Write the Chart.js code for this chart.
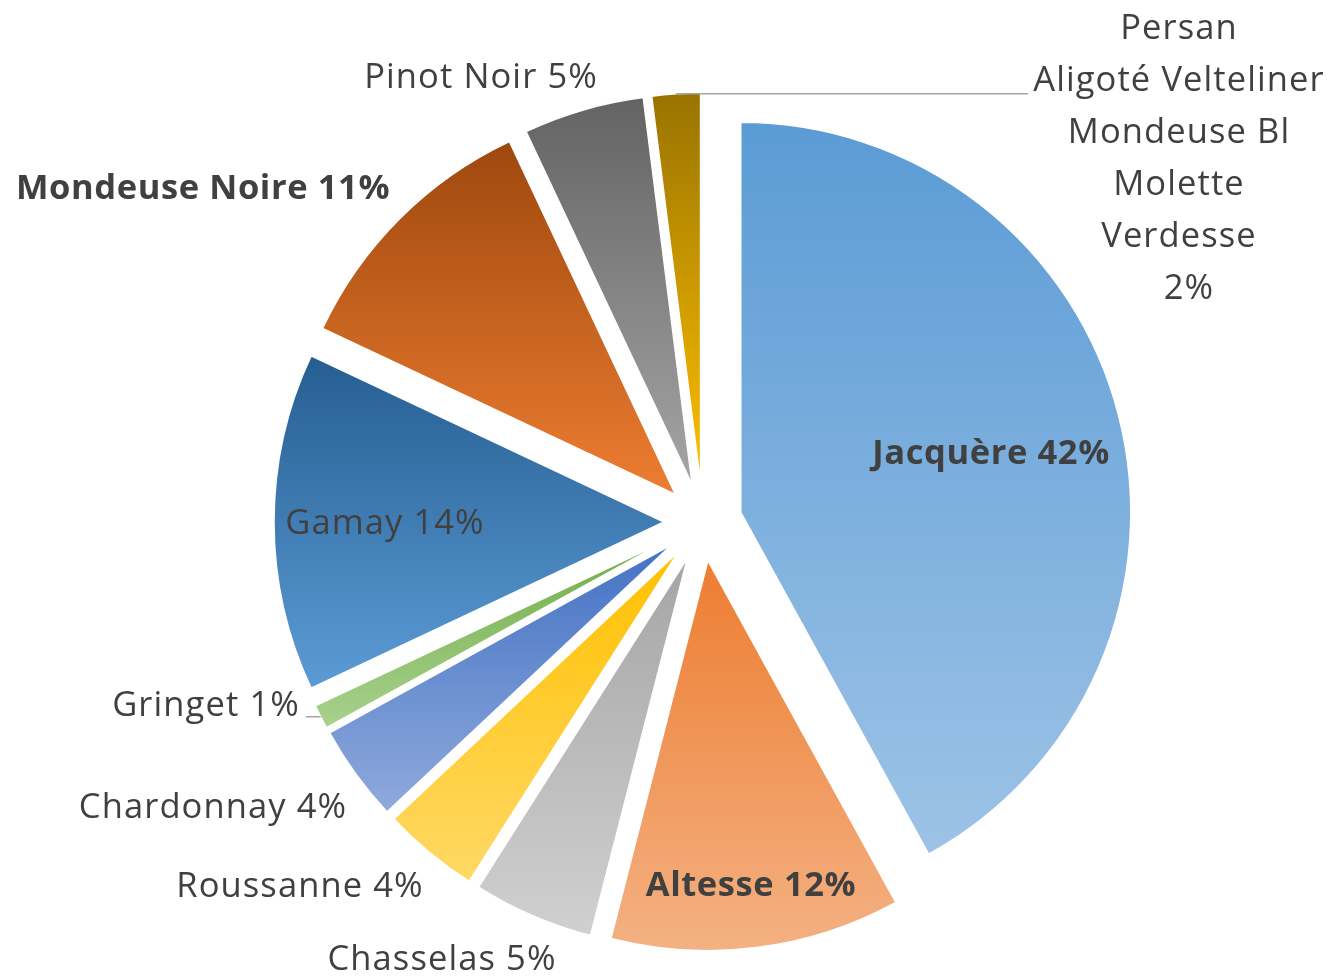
<!DOCTYPE html>
<html lang="fr">
<head>
<meta charset="utf-8">
<script src="https://cdn.jsdelivr.net/npm/chart.js@4.4.1/dist/chart.umd.min.js"></script>
<style>
  html, body { margin: 0; padding: 0; background: #ffffff; }
  .wrap { width: 1333px; height: 976px; }
</style>
</head>
<body>
<div class="wrap"><canvas id="pie" width="1333" height="976"></canvas></div>
<script>
// données : cépages de Savoie (% de la surface)
const cepages = ['Jacquère', 'Altesse', 'Chasselas', 'Roussanne', 'Chardonnay', 'Gringet',
  'Gamay', 'Mondeuse Noire', 'Pinot Noir', ['Persan', 'Aligoté Velteliner', 'Mondeuse Bl', 'Molette', 'Verdesse']];
const parts = [42, 12, 5, 4, 4, 1, 14, 11, 5, 2];

// dégradé vertical de chaque part (haut -> bas)
const topColors = ['#5B9BD5', '#ED7D31', '#A5A5A5', '#FFC000', '#4472C4', '#70AD47', '#255E91', '#9E480E', '#636363', '#997300'];
const bottomColors = ['#9DC3E6', '#F4B183', '#D0D0D0', '#FFD966', '#8FAADC', '#A9D18E', '#5B9BD5', '#ED7D31', '#A5A5A5', '#FFC000'];

// placement des étiquettes (centre x, ligne de base y)
const labelPos = [
  { x: 991, y: 464, bold: true },
  { x: 751, y: 896, bold: true },
  { x: 442, y: 970 },
  { x: 300, y: 897 },
  { x: 213, y: 818 },
  { x: 206, y: 716, leaderTo: 306 },
  { x: 385, y: 534 },
  { x: 203, y: 199, bold: true },
  { x: 481, y: 88 },
  { x: 1179, y: 39, lineHeight: 52, lastDx: 10, leaderTo: 1028 }
];

const EXPLODE = 39;
const FONT = '"Open Sans", "Lato", sans-serif';
const total = parts.reduce((a, b) => a + b, 0);

function sliceGradient(c) {
  const i = c.dataIndex;
  const chart = c.chart;
  const area = chart.chartArea;
  const ctrl = chart.getDatasetMeta(0).controller;
  if (!area || !ctrl || !ctrl.outerRadius) return topColors[i];
  const cy = (area.top + area.bottom) / 2 + (ctrl.offsetY || 0);
  const r = ctrl.outerRadius;
  let before = 0;
  for (let k = 0; k < i; k++) before += parts[k];
  const a0 = -Math.PI / 2 + 2 * Math.PI * before / total;
  const a1 = a0 + 2 * Math.PI * parts[i] / total;
  const ys = [0, r * Math.sin(a0), r * Math.sin(a1)];
  if (a0 <= Math.PI / 2 && a1 >= Math.PI / 2) ys.push(r);
  const g = chart.ctx.createLinearGradient(0, cy + Math.min(...ys), 0, cy + Math.max(...ys));
  g.addColorStop(0, topColors[i]);
  g.addColorStop(1, bottomColors[i]);
  return g;
}

// parts éclatées : chaque arc est dessiné décalé le long de sa bissectrice
const explodePlugin = {
  id: 'explode',
  beforeDatasetDraw(chart, args) {
    const ctx = chart.ctx;
    args.meta.data.forEach(arc => {
      const mid = (arc.startAngle + arc.endAngle) / 2;
      ctx.save();
      ctx.translate(Math.cos(mid) * EXPLODE, Math.sin(mid) * EXPLODE);
      arc.draw(ctx);
      ctx.restore();
    });
    return false;
  }
};

const labelsPlugin = {
  id: 'sliceLabels',
  afterDatasetsDraw(chart) {
    const ctx = chart.ctx;
    const arcs = chart.getDatasetMeta(0).data;
    ctx.save();
    ctx.fillStyle = '#404040';
    ctx.textAlign = 'center';
    ctx.textBaseline = 'alphabetic';
    arcs.forEach((arc, i) => {
      const p = labelPos[i];
      const pct = parts[i] + '%';
      ctx.font = (p.bold ? 'bold ' : '') + '34.5px ' + FONT;
      ctx.letterSpacing = p.bold ? '0.6px' : '1.1px';
      if (Array.isArray(cepages[i])) {
        const lines = cepages[i].concat([pct]);
        lines.forEach((t, k) => {
          const dx = k === lines.length - 1 ? (p.lastDx || 0) : 0;
          ctx.fillText(t, p.x + dx, p.y + k * p.lineHeight);
        });
      } else {
        ctx.fillText(cepages[i] + ' ' + pct, p.x, p.y);
      }
      if (p.leaderTo !== undefined) {
        const mid = (arc.startAngle + arc.endAngle) / 2;
        const d = arc.outerRadius + EXPLODE;
        const sx = arc.x + Math.cos(mid) * d;
        const sy = arc.y + Math.sin(mid) * d;
        ctx.strokeStyle = '#A6A6A6';
        ctx.lineWidth = 1.5;
        ctx.beginPath();
        ctx.moveTo(sx, sy);
        ctx.lineTo(p.leaderTo, sy);
        ctx.stroke();
      }
    });
    ctx.restore();
  }
};

new Chart(document.getElementById('pie'), {
  type: 'pie',
  data: {
    labels: cepages,
    datasets: [{
      data: parts,
      backgroundColor: sliceGradient,
      borderColor: '#ffffff',
      borderWidth: 1.5
    }]
  },
  options: {
    responsive: false,
    animation: false,
    radius: 390,
    layout: { padding: { left: 73, top: 68, right: 0, bottom: 0 } },
    plugins: {
      legend: { display: false },
      tooltip: { enabled: false }
    }
  },
  plugins: [explodePlugin, labelsPlugin]
});
</script>
</body>
</html>
